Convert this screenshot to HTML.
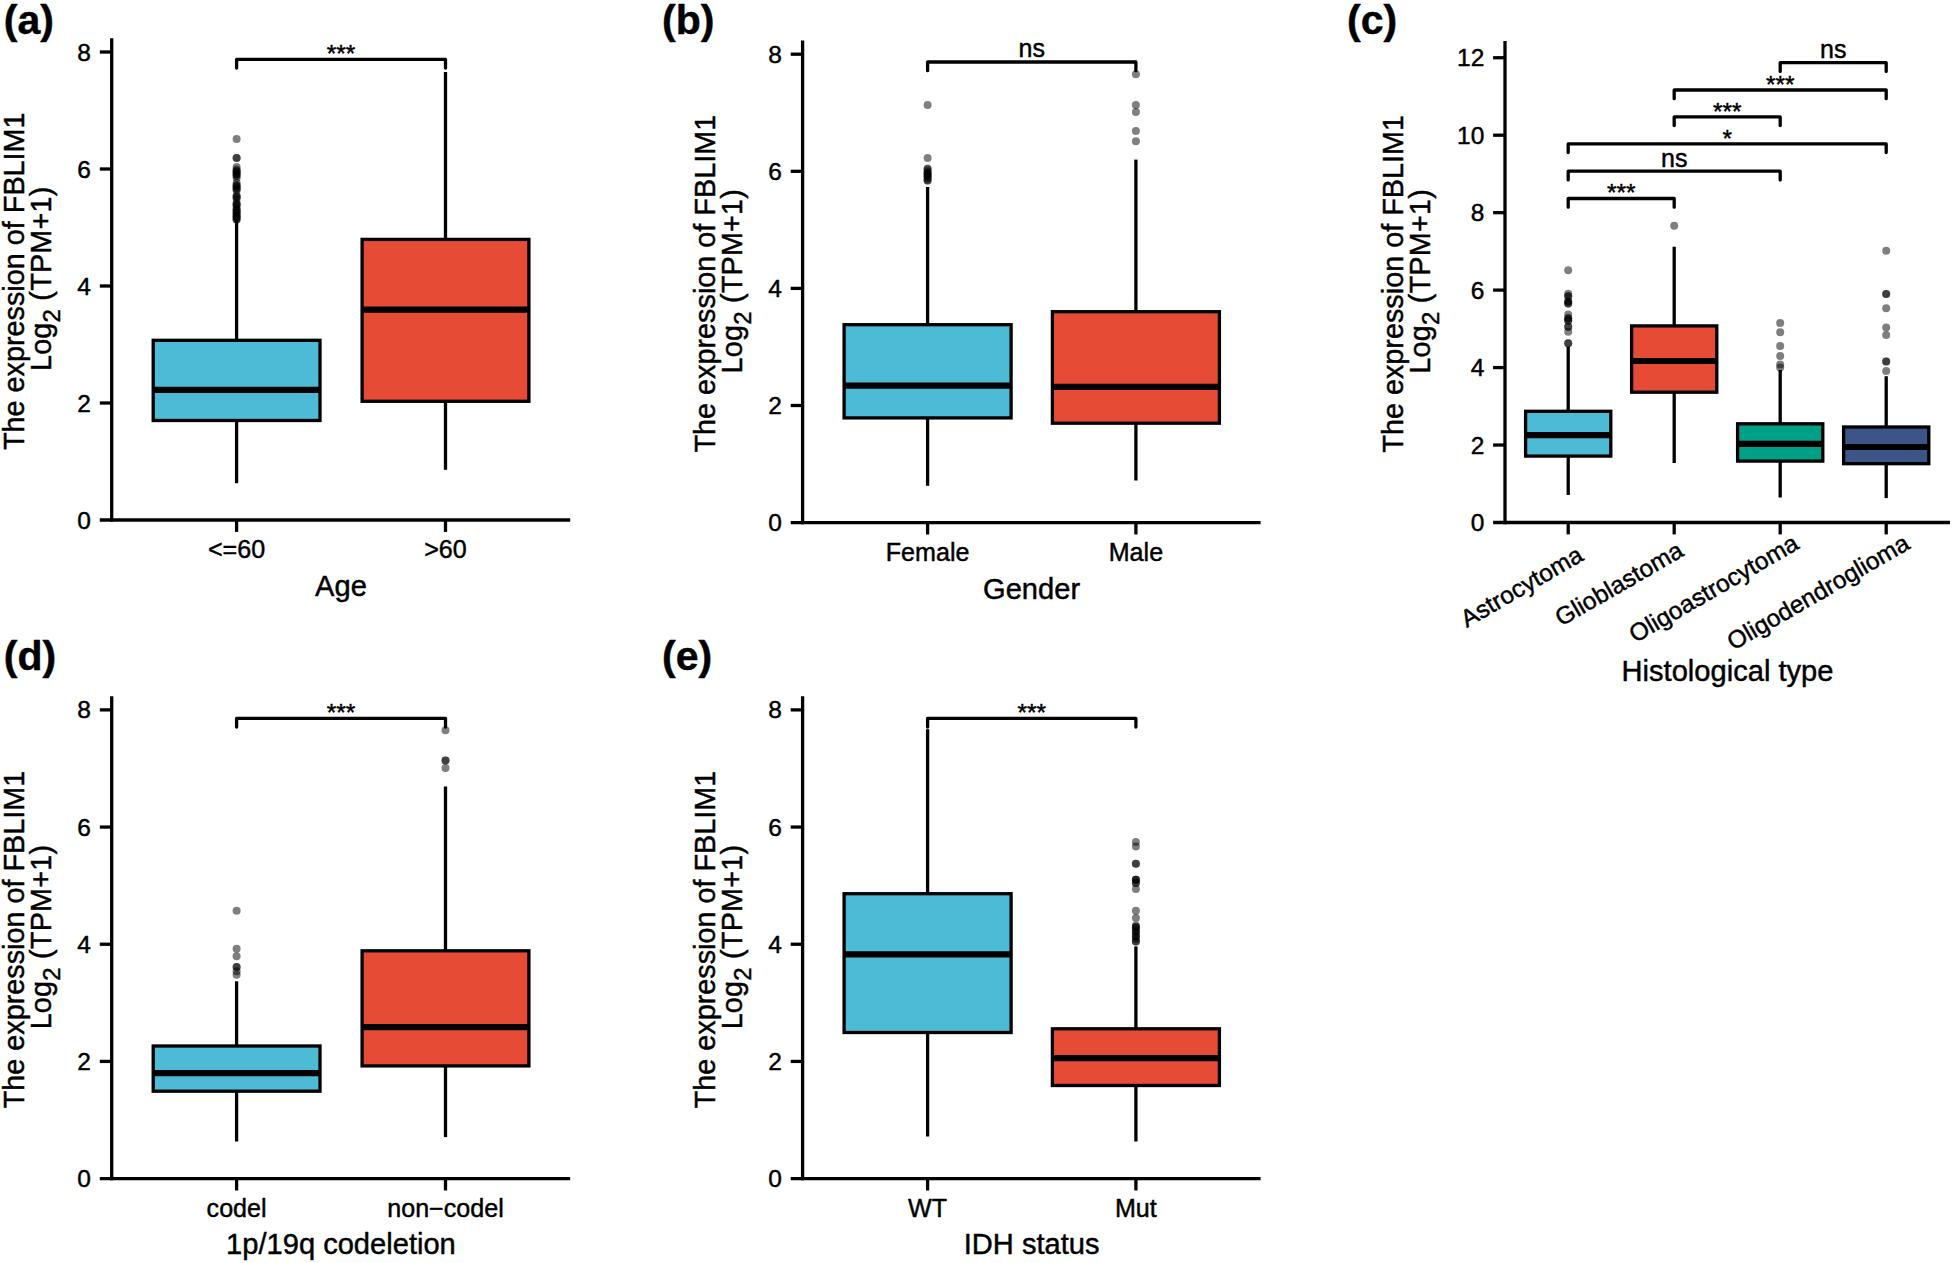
<!DOCTYPE html>
<html lang="en">
<head>
<meta charset="utf-8">
<title>FBLIM1 expression box plots</title>
<style>
html,body{margin:0;padding:0;background:#fff;}
body{width:1952px;height:1263px;overflow:hidden;}
svg{display:block;font-family:"Liberation Sans",Arial,Helvetica,sans-serif;fill:#000;}
text{stroke:#000;stroke-width:0.45px;stroke-linejoin:round;}
</style>
</head>
<body>
<svg width="1952" height="1263" viewBox="0 0 1952 1263">
<rect x="0" y="0" width="1952" height="1263" fill="#fff"/>
<g>
<line x1="236.6" y1="483.2" x2="236.6" y2="420.5" stroke="#000" stroke-width="3.3" stroke-linecap="butt"/>
<line x1="236.6" y1="340.3" x2="236.6" y2="219.5" stroke="#000" stroke-width="3.3" stroke-linecap="butt"/>
<rect x="153.2" y="340.3" width="166.8" height="80.2" fill="#4DBBD5" stroke="#000" stroke-width="3.3" stroke-linejoin="miter"/>
<line x1="153.2" y1="389.9" x2="320" y2="389.9" stroke="#000" stroke-width="6.2" stroke-linecap="butt"/>
<circle cx="236.6" cy="138.9" r="4.0" fill="rgba(0,0,0,0.5)"/>
<circle cx="236.6" cy="158" r="4.0" fill="rgba(0,0,0,0.5)"/>
<circle cx="236.6" cy="158" r="4.0" fill="rgba(0,0,0,0.5)"/>
<circle cx="236.6" cy="167.1" r="4.0" fill="rgba(0,0,0,0.5)"/>
<circle cx="236.6" cy="169.5" r="4.0" fill="rgba(0,0,0,0.5)"/>
<circle cx="236.6" cy="171.3" r="4.0" fill="rgba(0,0,0,0.5)"/>
<circle cx="236.6" cy="171.3" r="4.0" fill="rgba(0,0,0,0.5)"/>
<circle cx="236.6" cy="173" r="4.0" fill="rgba(0,0,0,0.5)"/>
<circle cx="236.6" cy="174.6" r="4.0" fill="rgba(0,0,0,0.5)"/>
<circle cx="236.6" cy="174.6" r="4.0" fill="rgba(0,0,0,0.5)"/>
<circle cx="236.6" cy="176" r="4.0" fill="rgba(0,0,0,0.5)"/>
<circle cx="236.6" cy="177.9" r="4.0" fill="rgba(0,0,0,0.5)"/>
<circle cx="236.6" cy="183" r="4.0" fill="rgba(0,0,0,0.5)"/>
<circle cx="236.6" cy="185.4" r="4.0" fill="rgba(0,0,0,0.5)"/>
<circle cx="236.6" cy="185.4" r="4.0" fill="rgba(0,0,0,0.5)"/>
<circle cx="236.6" cy="187" r="4.0" fill="rgba(0,0,0,0.5)"/>
<circle cx="236.6" cy="188.7" r="4.0" fill="rgba(0,0,0,0.5)"/>
<circle cx="236.6" cy="188.7" r="4.0" fill="rgba(0,0,0,0.5)"/>
<circle cx="236.6" cy="190.5" r="4.0" fill="rgba(0,0,0,0.5)"/>
<circle cx="236.6" cy="195.5" r="4.0" fill="rgba(0,0,0,0.5)"/>
<circle cx="236.6" cy="197.1" r="4.0" fill="rgba(0,0,0,0.5)"/>
<circle cx="236.6" cy="197.1" r="4.0" fill="rgba(0,0,0,0.5)"/>
<circle cx="236.6" cy="199" r="4.0" fill="rgba(0,0,0,0.5)"/>
<circle cx="236.6" cy="203" r="4.0" fill="rgba(0,0,0,0.5)"/>
<circle cx="236.6" cy="204.5" r="4.0" fill="rgba(0,0,0,0.5)"/>
<circle cx="236.6" cy="204.5" r="4.0" fill="rgba(0,0,0,0.5)"/>
<circle cx="236.6" cy="206.5" r="4.0" fill="rgba(0,0,0,0.5)"/>
<circle cx="236.6" cy="209.5" r="4.0" fill="rgba(0,0,0,0.5)"/>
<circle cx="236.6" cy="209.5" r="4.0" fill="rgba(0,0,0,0.5)"/>
<circle cx="236.6" cy="211" r="4.0" fill="rgba(0,0,0,0.5)"/>
<circle cx="236.6" cy="212.8" r="4.0" fill="rgba(0,0,0,0.5)"/>
<circle cx="236.6" cy="212.8" r="4.0" fill="rgba(0,0,0,0.5)"/>
<circle cx="236.6" cy="214.5" r="4.0" fill="rgba(0,0,0,0.5)"/>
<circle cx="236.6" cy="216.2" r="4.0" fill="rgba(0,0,0,0.5)"/>
<circle cx="236.6" cy="216.2" r="4.0" fill="rgba(0,0,0,0.5)"/>
<circle cx="236.6" cy="218" r="4.0" fill="rgba(0,0,0,0.5)"/>
<circle cx="236.6" cy="219.5" r="4.0" fill="rgba(0,0,0,0.5)"/>
<circle cx="236.6" cy="219.5" r="4.0" fill="rgba(0,0,0,0.5)"/>
<line x1="445.5" y1="469.8" x2="445.5" y2="401.3" stroke="#000" stroke-width="3.3" stroke-linecap="butt"/>
<line x1="445.5" y1="239.4" x2="445.5" y2="72" stroke="#000" stroke-width="3.3" stroke-linecap="butt"/>
<rect x="362.1" y="239.4" width="166.8" height="161.9" fill="#E64B35" stroke="#000" stroke-width="3.3" stroke-linejoin="miter"/>
<line x1="362.1" y1="309.7" x2="528.9" y2="309.7" stroke="#000" stroke-width="6.2" stroke-linecap="butt"/>
<line x1="111.7" y1="38.3" x2="111.7" y2="521.65" stroke="#000" stroke-width="3.3" stroke-linecap="butt"/>
<line x1="99.8" y1="520" x2="570.2" y2="520" stroke="#000" stroke-width="3.3" stroke-linecap="butt"/>
<text x="91" y="528.5" font-size="24.5" text-anchor="end">0</text>
<line x1="99.8" y1="403" x2="111.7" y2="403" stroke="#000" stroke-width="3.3" stroke-linecap="butt"/>
<text x="91" y="411.5" font-size="24.5" text-anchor="end">2</text>
<line x1="99.8" y1="286" x2="111.7" y2="286" stroke="#000" stroke-width="3.3" stroke-linecap="butt"/>
<text x="91" y="294.5" font-size="24.5" text-anchor="end">4</text>
<line x1="99.8" y1="169" x2="111.7" y2="169" stroke="#000" stroke-width="3.3" stroke-linecap="butt"/>
<text x="91" y="177.5" font-size="24.5" text-anchor="end">6</text>
<line x1="99.8" y1="52" x2="111.7" y2="52" stroke="#000" stroke-width="3.3" stroke-linecap="butt"/>
<text x="91" y="60.5" font-size="24.5" text-anchor="end">8</text>
<line x1="236.6" y1="520" x2="236.6" y2="531.9" stroke="#000" stroke-width="3.3" stroke-linecap="butt"/>
<text x="236.6" y="558.4" font-size="25.1" text-anchor="middle">&lt;=60</text>
<line x1="445.5" y1="520" x2="445.5" y2="531.9" stroke="#000" stroke-width="3.3" stroke-linecap="butt"/>
<text x="445.5" y="558.4" font-size="25.1" text-anchor="middle">&gt;60</text>
<path d="M236.6 68.1V59.4H445.5V68.1" fill="none" stroke="#000" stroke-width="3.3" stroke-linejoin="round" stroke-linecap="round"/>
<text x="341.05" y="62.1" font-size="24.5" text-anchor="middle">***</text>
<text x="340.95" y="596.4" font-size="29.1" text-anchor="middle">Age</text>
<text transform="translate(23.8,281.25) rotate(-90)" font-size="28.8" text-anchor="middle">The expression of FBLIM1</text>
<text transform="translate(51.3,278.75) rotate(-90)" font-size="28.8" text-anchor="middle" letter-spacing="0.2">Log<tspan font-size="24" dy="9">2</tspan><tspan dy="-9"> (TPM+1)</tspan></text>
<text x="3.8" y="34.3" font-size="41" text-anchor="start" font-weight="bold" stroke="none">(a)</text>
</g>
<g>
<line x1="927.6" y1="485.8" x2="927.6" y2="417.9" stroke="#000" stroke-width="3.3" stroke-linecap="butt"/>
<line x1="927.6" y1="324.7" x2="927.6" y2="187" stroke="#000" stroke-width="3.3" stroke-linecap="butt"/>
<rect x="844.1" y="324.7" width="167" height="93.2" fill="#4DBBD5" stroke="#000" stroke-width="3.3" stroke-linejoin="miter"/>
<line x1="844.1" y1="385.6" x2="1011.1" y2="385.6" stroke="#000" stroke-width="6.2" stroke-linecap="butt"/>
<circle cx="927.6" cy="104.9" r="4.0" fill="rgba(0,0,0,0.5)"/>
<circle cx="927.6" cy="157.9" r="4.0" fill="rgba(0,0,0,0.5)"/>
<circle cx="927.6" cy="168.5" r="4.0" fill="rgba(0,0,0,0.5)"/>
<circle cx="927.6" cy="169.6" r="4.0" fill="rgba(0,0,0,0.5)"/>
<circle cx="927.6" cy="171.5" r="4.0" fill="rgba(0,0,0,0.5)"/>
<circle cx="927.6" cy="173.2" r="4.0" fill="rgba(0,0,0,0.5)"/>
<circle cx="927.6" cy="173.2" r="4.0" fill="rgba(0,0,0,0.5)"/>
<circle cx="927.6" cy="175" r="4.0" fill="rgba(0,0,0,0.5)"/>
<circle cx="927.6" cy="176.5" r="4.0" fill="rgba(0,0,0,0.5)"/>
<circle cx="927.6" cy="176.5" r="4.0" fill="rgba(0,0,0,0.5)"/>
<circle cx="927.6" cy="178.5" r="4.0" fill="rgba(0,0,0,0.5)"/>
<circle cx="927.6" cy="180.5" r="4.0" fill="rgba(0,0,0,0.5)"/>
<circle cx="927.6" cy="180.5" r="4.0" fill="rgba(0,0,0,0.5)"/>
<line x1="1135.9" y1="480.5" x2="1135.9" y2="423.2" stroke="#000" stroke-width="3.3" stroke-linecap="butt"/>
<line x1="1135.9" y1="311.7" x2="1135.9" y2="159.6" stroke="#000" stroke-width="3.3" stroke-linecap="butt"/>
<rect x="1052.4" y="311.7" width="167" height="111.5" fill="#E64B35" stroke="#000" stroke-width="3.3" stroke-linejoin="miter"/>
<line x1="1052.4" y1="386.9" x2="1219.4" y2="386.9" stroke="#000" stroke-width="6.2" stroke-linecap="butt"/>
<circle cx="1135.9" cy="74.2" r="4.0" fill="rgba(0,0,0,0.5)"/>
<circle cx="1135.9" cy="104.9" r="4.0" fill="rgba(0,0,0,0.5)"/>
<circle cx="1135.9" cy="111.9" r="4.0" fill="rgba(0,0,0,0.5)"/>
<circle cx="1135.9" cy="131" r="4.0" fill="rgba(0,0,0,0.5)"/>
<circle cx="1135.9" cy="141.2" r="4.0" fill="rgba(0,0,0,0.5)"/>
<line x1="802.6" y1="40.6" x2="802.6" y2="524.25" stroke="#000" stroke-width="3.3" stroke-linecap="butt"/>
<line x1="790.7" y1="522.6" x2="1260.6" y2="522.6" stroke="#000" stroke-width="3.3" stroke-linecap="butt"/>
<text x="781.9" y="531.1" font-size="24.5" text-anchor="end">0</text>
<line x1="790.7" y1="405.5" x2="802.6" y2="405.5" stroke="#000" stroke-width="3.3" stroke-linecap="butt"/>
<text x="781.9" y="414" font-size="24.5" text-anchor="end">2</text>
<line x1="790.7" y1="288.4" x2="802.6" y2="288.4" stroke="#000" stroke-width="3.3" stroke-linecap="butt"/>
<text x="781.9" y="296.9" font-size="24.5" text-anchor="end">4</text>
<line x1="790.7" y1="171.3" x2="802.6" y2="171.3" stroke="#000" stroke-width="3.3" stroke-linecap="butt"/>
<text x="781.9" y="179.8" font-size="24.5" text-anchor="end">6</text>
<line x1="790.7" y1="54.2" x2="802.6" y2="54.2" stroke="#000" stroke-width="3.3" stroke-linecap="butt"/>
<text x="781.9" y="62.7" font-size="24.5" text-anchor="end">8</text>
<line x1="927.6" y1="522.6" x2="927.6" y2="534.5" stroke="#000" stroke-width="3.3" stroke-linecap="butt"/>
<text x="927.6" y="560.5" font-size="25.1" text-anchor="middle">Female</text>
<line x1="1135.9" y1="522.6" x2="1135.9" y2="534.5" stroke="#000" stroke-width="3.3" stroke-linecap="butt"/>
<text x="1135.9" y="560.5" font-size="25.1" text-anchor="middle">Male</text>
<path d="M927.6 70.7V62H1135.9V70.7" fill="none" stroke="#000" stroke-width="3.3" stroke-linejoin="round" stroke-linecap="round"/>
<text x="1031.75" y="57.3" font-size="25" text-anchor="middle">ns</text>
<text x="1031.6" y="598.6" font-size="29.1" text-anchor="middle">Gender</text>
<text transform="translate(714.8,283.7) rotate(-90)" font-size="28.8" text-anchor="middle">The expression of FBLIM1</text>
<text transform="translate(741.9,281.2) rotate(-90)" font-size="28.8" text-anchor="middle" letter-spacing="0.2">Log<tspan font-size="24" dy="9">2</tspan><tspan dy="-9"> (TPM+1)</tspan></text>
<text x="662" y="34.3" font-size="41" text-anchor="start" font-weight="bold" stroke="none">(b)</text>
</g>
<g>
<line x1="1568.2" y1="495" x2="1568.2" y2="456.1" stroke="#000" stroke-width="3.3" stroke-linecap="butt"/>
<line x1="1568.2" y1="411.3" x2="1568.2" y2="346.5" stroke="#000" stroke-width="3.3" stroke-linecap="butt"/>
<rect x="1525.6" y="411.3" width="85.2" height="44.8" fill="#4DBBD5" stroke="#000" stroke-width="3.3" stroke-linejoin="miter"/>
<line x1="1525.6" y1="435.1" x2="1610.8" y2="435.1" stroke="#000" stroke-width="6.2" stroke-linecap="butt"/>
<circle cx="1568.2" cy="270.3" r="4.0" fill="rgba(0,0,0,0.5)"/>
<circle cx="1568.2" cy="293.8" r="4.0" fill="rgba(0,0,0,0.5)"/>
<circle cx="1568.2" cy="296.3" r="4.0" fill="rgba(0,0,0,0.5)"/>
<circle cx="1568.2" cy="296.3" r="4.0" fill="rgba(0,0,0,0.5)"/>
<circle cx="1568.2" cy="301.6" r="4.0" fill="rgba(0,0,0,0.5)"/>
<circle cx="1568.2" cy="301.6" r="4.0" fill="rgba(0,0,0,0.5)"/>
<circle cx="1568.2" cy="303.5" r="4.0" fill="rgba(0,0,0,0.5)"/>
<circle cx="1568.2" cy="303.5" r="4.0" fill="rgba(0,0,0,0.5)"/>
<circle cx="1568.2" cy="314.5" r="4.0" fill="rgba(0,0,0,0.5)"/>
<circle cx="1568.2" cy="318.2" r="4.0" fill="rgba(0,0,0,0.5)"/>
<circle cx="1568.2" cy="318.2" r="4.0" fill="rgba(0,0,0,0.5)"/>
<circle cx="1568.2" cy="320.4" r="4.0" fill="rgba(0,0,0,0.5)"/>
<circle cx="1568.2" cy="320.4" r="4.0" fill="rgba(0,0,0,0.5)"/>
<circle cx="1568.2" cy="326.7" r="4.0" fill="rgba(0,0,0,0.5)"/>
<circle cx="1568.2" cy="326.7" r="4.0" fill="rgba(0,0,0,0.5)"/>
<circle cx="1568.2" cy="331.7" r="4.0" fill="rgba(0,0,0,0.5)"/>
<circle cx="1568.2" cy="343.3" r="4.0" fill="rgba(0,0,0,0.5)"/>
<circle cx="1568.2" cy="343.3" r="4.0" fill="rgba(0,0,0,0.5)"/>
<line x1="1674.2" y1="463" x2="1674.2" y2="392.2" stroke="#000" stroke-width="3.3" stroke-linecap="butt"/>
<line x1="1674.2" y1="325.9" x2="1674.2" y2="246.7" stroke="#000" stroke-width="3.3" stroke-linecap="butt"/>
<rect x="1631.6" y="325.9" width="85.2" height="66.3" fill="#E64B35" stroke="#000" stroke-width="3.3" stroke-linejoin="miter"/>
<line x1="1631.6" y1="361" x2="1716.8" y2="361" stroke="#000" stroke-width="6.2" stroke-linecap="butt"/>
<circle cx="1674.2" cy="225.7" r="4.0" fill="rgba(0,0,0,0.5)"/>
<line x1="1780.2" y1="497.5" x2="1780.2" y2="461.1" stroke="#000" stroke-width="3.3" stroke-linecap="butt"/>
<line x1="1780.2" y1="423.8" x2="1780.2" y2="370" stroke="#000" stroke-width="3.3" stroke-linecap="butt"/>
<rect x="1737.6" y="423.8" width="85.2" height="37.3" fill="#00A087" stroke="#000" stroke-width="3.3" stroke-linejoin="miter"/>
<line x1="1737.6" y1="443.9" x2="1822.8" y2="443.9" stroke="#000" stroke-width="6.2" stroke-linecap="butt"/>
<circle cx="1780.2" cy="322.9" r="4.0" fill="rgba(0,0,0,0.5)"/>
<circle cx="1780.2" cy="332.3" r="4.0" fill="rgba(0,0,0,0.5)"/>
<circle cx="1780.2" cy="346.1" r="4.0" fill="rgba(0,0,0,0.5)"/>
<circle cx="1780.2" cy="355.9" r="4.0" fill="rgba(0,0,0,0.5)"/>
<circle cx="1780.2" cy="364.6" r="4.0" fill="rgba(0,0,0,0.5)"/>
<circle cx="1780.2" cy="367.5" r="4.0" fill="rgba(0,0,0,0.5)"/>
<line x1="1886.2" y1="498.1" x2="1886.2" y2="463.7" stroke="#000" stroke-width="3.3" stroke-linecap="butt"/>
<line x1="1886.2" y1="427" x2="1886.2" y2="376.2" stroke="#000" stroke-width="3.3" stroke-linecap="butt"/>
<rect x="1843.6" y="427" width="85.2" height="36.7" fill="#3C5488" stroke="#000" stroke-width="3.3" stroke-linejoin="miter"/>
<line x1="1843.6" y1="447" x2="1928.8" y2="447" stroke="#000" stroke-width="6.2" stroke-linecap="butt"/>
<circle cx="1886.2" cy="250.8" r="4.0" fill="rgba(0,0,0,0.5)"/>
<circle cx="1886.2" cy="294.1" r="4.0" fill="rgba(0,0,0,0.5)"/>
<circle cx="1886.2" cy="294.1" r="4.0" fill="rgba(0,0,0,0.5)"/>
<circle cx="1886.2" cy="308.2" r="4.0" fill="rgba(0,0,0,0.5)"/>
<circle cx="1886.2" cy="327.6" r="4.0" fill="rgba(0,0,0,0.5)"/>
<circle cx="1886.2" cy="334.9" r="4.0" fill="rgba(0,0,0,0.5)"/>
<circle cx="1886.2" cy="361.5" r="4.0" fill="rgba(0,0,0,0.5)"/>
<circle cx="1886.2" cy="361.5" r="4.0" fill="rgba(0,0,0,0.5)"/>
<circle cx="1886.2" cy="370.9" r="4.0" fill="rgba(0,0,0,0.5)"/>
<line x1="1505" y1="41" x2="1505" y2="524.15" stroke="#000" stroke-width="3.3" stroke-linecap="butt"/>
<line x1="1493.1" y1="522.5" x2="1950" y2="522.5" stroke="#000" stroke-width="3.3" stroke-linecap="butt"/>
<text x="1484.3" y="531" font-size="24.5" text-anchor="end">0</text>
<line x1="1493.1" y1="445.04" x2="1505" y2="445.04" stroke="#000" stroke-width="3.3" stroke-linecap="butt"/>
<text x="1484.3" y="453.54" font-size="24.5" text-anchor="end">2</text>
<line x1="1493.1" y1="367.58" x2="1505" y2="367.58" stroke="#000" stroke-width="3.3" stroke-linecap="butt"/>
<text x="1484.3" y="376.08" font-size="24.5" text-anchor="end">4</text>
<line x1="1493.1" y1="290.12" x2="1505" y2="290.12" stroke="#000" stroke-width="3.3" stroke-linecap="butt"/>
<text x="1484.3" y="298.62" font-size="24.5" text-anchor="end">6</text>
<line x1="1493.1" y1="212.66" x2="1505" y2="212.66" stroke="#000" stroke-width="3.3" stroke-linecap="butt"/>
<text x="1484.3" y="221.16" font-size="24.5" text-anchor="end">8</text>
<line x1="1493.1" y1="135.2" x2="1505" y2="135.2" stroke="#000" stroke-width="3.3" stroke-linecap="butt"/>
<text x="1484.3" y="143.7" font-size="24.5" text-anchor="end">10</text>
<line x1="1493.1" y1="57.74" x2="1505" y2="57.74" stroke="#000" stroke-width="3.3" stroke-linecap="butt"/>
<text x="1484.3" y="66.24" font-size="24.5" text-anchor="end">12</text>
<line x1="1568.2" y1="522.5" x2="1568.2" y2="534.4" stroke="#000" stroke-width="3.3" stroke-linecap="butt"/>
<text transform="translate(1584.7,559.8) rotate(-30)" font-size="24.5" text-anchor="end">Astrocytoma</text>
<line x1="1674.2" y1="522.5" x2="1674.2" y2="534.4" stroke="#000" stroke-width="3.3" stroke-linecap="butt"/>
<text transform="translate(1685,555.3) rotate(-30)" font-size="24.5" text-anchor="end">Glioblastoma</text>
<line x1="1780.2" y1="522.5" x2="1780.2" y2="534.4" stroke="#000" stroke-width="3.3" stroke-linecap="butt"/>
<text transform="translate(1800.4,547.9) rotate(-30)" font-size="24.5" text-anchor="end">Oligoastrocytoma</text>
<line x1="1886.2" y1="522.5" x2="1886.2" y2="534.4" stroke="#000" stroke-width="3.3" stroke-linecap="butt"/>
<text transform="translate(1911.3,547.9) rotate(-30)" font-size="24.5" text-anchor="end">Oligodendroglioma</text>
<path d="M1568.2 207.2V198.5H1674.2V207.2" fill="none" stroke="#000" stroke-width="3.3" stroke-linejoin="round" stroke-linecap="round"/>
<text x="1621.2" y="201.2" font-size="24.5" text-anchor="middle">***</text>
<path d="M1568.2 179.9V171.2H1780.2V179.9" fill="none" stroke="#000" stroke-width="3.3" stroke-linejoin="round" stroke-linecap="round"/>
<text x="1674.2" y="166.5" font-size="25" text-anchor="middle">ns</text>
<path d="M1568.2 152.6V143.9H1886.2V152.6" fill="none" stroke="#000" stroke-width="3.3" stroke-linejoin="round" stroke-linecap="round"/>
<text x="1727.2" y="146.6" font-size="24.5" text-anchor="middle">*</text>
<path d="M1674.2 125.6V116.9H1780.2V125.6" fill="none" stroke="#000" stroke-width="3.3" stroke-linejoin="round" stroke-linecap="round"/>
<text x="1727.2" y="119.6" font-size="24.5" text-anchor="middle">***</text>
<path d="M1674.2 98.7V90H1886.2V98.7" fill="none" stroke="#000" stroke-width="3.3" stroke-linejoin="round" stroke-linecap="round"/>
<text x="1780.2" y="92.7" font-size="24.5" text-anchor="middle">***</text>
<path d="M1780.2 71.4V62.7H1886.2V71.4" fill="none" stroke="#000" stroke-width="3.3" stroke-linejoin="round" stroke-linecap="round"/>
<text x="1833.2" y="58" font-size="25" text-anchor="middle">ns</text>
<text x="1727.5" y="680.9" font-size="29.1" text-anchor="middle">Histological type</text>
<text transform="translate(1403,283.85) rotate(-90)" font-size="28.8" text-anchor="middle">The expression of FBLIM1</text>
<text transform="translate(1430.3,281.35) rotate(-90)" font-size="28.8" text-anchor="middle" letter-spacing="0.2">Log<tspan font-size="24" dy="9">2</tspan><tspan dy="-9"> (TPM+1)</tspan></text>
<text x="1347" y="34.3" font-size="41" text-anchor="start" font-weight="bold" stroke="none">(c)</text>
</g>
<g>
<line x1="236.6" y1="1141.5" x2="236.6" y2="1091.2" stroke="#000" stroke-width="3.3" stroke-linecap="butt"/>
<line x1="236.6" y1="1046" x2="236.6" y2="981.3" stroke="#000" stroke-width="3.3" stroke-linecap="butt"/>
<rect x="153.2" y="1046" width="166.8" height="45.2" fill="#4DBBD5" stroke="#000" stroke-width="3.3" stroke-linejoin="miter"/>
<line x1="153.2" y1="1073.2" x2="320" y2="1073.2" stroke="#000" stroke-width="6.2" stroke-linecap="butt"/>
<circle cx="236.6" cy="910.7" r="4.0" fill="rgba(0,0,0,0.5)"/>
<circle cx="236.6" cy="948.7" r="4.0" fill="rgba(0,0,0,0.5)"/>
<circle cx="236.6" cy="956.3" r="4.0" fill="rgba(0,0,0,0.5)"/>
<circle cx="236.6" cy="967" r="4.0" fill="rgba(0,0,0,0.5)"/>
<circle cx="236.6" cy="967" r="4.0" fill="rgba(0,0,0,0.5)"/>
<circle cx="236.6" cy="971.3" r="4.0" fill="rgba(0,0,0,0.5)"/>
<circle cx="236.6" cy="974.7" r="4.0" fill="rgba(0,0,0,0.5)"/>
<line x1="445.5" y1="1137.1" x2="445.5" y2="1065.9" stroke="#000" stroke-width="3.3" stroke-linecap="butt"/>
<line x1="445.5" y1="950.8" x2="445.5" y2="786.5" stroke="#000" stroke-width="3.3" stroke-linecap="butt"/>
<rect x="362.1" y="950.8" width="166.8" height="115.1" fill="#E64B35" stroke="#000" stroke-width="3.3" stroke-linejoin="miter"/>
<line x1="362.1" y1="1027.1" x2="528.9" y2="1027.1" stroke="#000" stroke-width="6.2" stroke-linecap="butt"/>
<circle cx="445.5" cy="730.2" r="4.0" fill="rgba(0,0,0,0.5)"/>
<circle cx="445.5" cy="760.5" r="4.0" fill="rgba(0,0,0,0.5)"/>
<circle cx="445.5" cy="760.5" r="4.0" fill="rgba(0,0,0,0.5)"/>
<circle cx="445.5" cy="767.9" r="4.0" fill="rgba(0,0,0,0.5)"/>
<line x1="111.7" y1="696.3" x2="111.7" y2="1180.25" stroke="#000" stroke-width="3.3" stroke-linecap="butt"/>
<line x1="99.8" y1="1178.6" x2="570.2" y2="1178.6" stroke="#000" stroke-width="3.3" stroke-linecap="butt"/>
<text x="91" y="1187.1" font-size="24.5" text-anchor="end">0</text>
<line x1="99.8" y1="1061.42" x2="111.7" y2="1061.42" stroke="#000" stroke-width="3.3" stroke-linecap="butt"/>
<text x="91" y="1069.92" font-size="24.5" text-anchor="end">2</text>
<line x1="99.8" y1="944.24" x2="111.7" y2="944.24" stroke="#000" stroke-width="3.3" stroke-linecap="butt"/>
<text x="91" y="952.74" font-size="24.5" text-anchor="end">4</text>
<line x1="99.8" y1="827.06" x2="111.7" y2="827.06" stroke="#000" stroke-width="3.3" stroke-linecap="butt"/>
<text x="91" y="835.56" font-size="24.5" text-anchor="end">6</text>
<line x1="99.8" y1="709.88" x2="111.7" y2="709.88" stroke="#000" stroke-width="3.3" stroke-linecap="butt"/>
<text x="91" y="718.38" font-size="24.5" text-anchor="end">8</text>
<line x1="236.6" y1="1178.6" x2="236.6" y2="1190.5" stroke="#000" stroke-width="3.3" stroke-linecap="butt"/>
<text x="236.6" y="1216.5" font-size="25.1" text-anchor="middle">codel</text>
<line x1="445.5" y1="1178.6" x2="445.5" y2="1190.5" stroke="#000" stroke-width="3.3" stroke-linecap="butt"/>
<text x="445.5" y="1216.5" font-size="25.1" text-anchor="middle">non−codel</text>
<path d="M236.6 727V718.3H445.5V727" fill="none" stroke="#000" stroke-width="3.3" stroke-linejoin="round" stroke-linecap="round"/>
<text x="341.05" y="721" font-size="24.5" text-anchor="middle">***</text>
<text x="340.95" y="1254" font-size="29.1" text-anchor="middle">1p/19q codeletion</text>
<text transform="translate(23.8,939.55) rotate(-90)" font-size="28.8" text-anchor="middle">The expression of FBLIM1</text>
<text transform="translate(51.3,937.05) rotate(-90)" font-size="28.8" text-anchor="middle" letter-spacing="0.2">Log<tspan font-size="24" dy="9">2</tspan><tspan dy="-9"> (TPM+1)</tspan></text>
<text x="3.8" y="669.8" font-size="41" text-anchor="start" font-weight="bold" stroke="none">(d)</text>
</g>
<g>
<line x1="927.6" y1="1136.5" x2="927.6" y2="1032.5" stroke="#000" stroke-width="3.3" stroke-linecap="butt"/>
<line x1="927.6" y1="893.7" x2="927.6" y2="729.2" stroke="#000" stroke-width="3.3" stroke-linecap="butt"/>
<rect x="844.1" y="893.7" width="167" height="138.8" fill="#4DBBD5" stroke="#000" stroke-width="3.3" stroke-linejoin="miter"/>
<line x1="844.1" y1="954.4" x2="1011.1" y2="954.4" stroke="#000" stroke-width="6.2" stroke-linecap="butt"/>
<line x1="1135.9" y1="1141.5" x2="1135.9" y2="1085.5" stroke="#000" stroke-width="3.3" stroke-linecap="butt"/>
<line x1="1135.9" y1="1028.8" x2="1135.9" y2="946.4" stroke="#000" stroke-width="3.3" stroke-linecap="butt"/>
<rect x="1052.4" y="1028.8" width="167" height="56.7" fill="#E64B35" stroke="#000" stroke-width="3.3" stroke-linejoin="miter"/>
<line x1="1052.4" y1="1058.2" x2="1219.4" y2="1058.2" stroke="#000" stroke-width="6.2" stroke-linecap="butt"/>
<circle cx="1135.9" cy="842.1" r="4.0" fill="rgba(0,0,0,0.5)"/>
<circle cx="1135.9" cy="846.5" r="4.0" fill="rgba(0,0,0,0.5)"/>
<circle cx="1135.9" cy="863.8" r="4.0" fill="rgba(0,0,0,0.5)"/>
<circle cx="1135.9" cy="863.8" r="4.0" fill="rgba(0,0,0,0.5)"/>
<circle cx="1135.9" cy="879.8" r="4.0" fill="rgba(0,0,0,0.5)"/>
<circle cx="1135.9" cy="879.8" r="4.0" fill="rgba(0,0,0,0.5)"/>
<circle cx="1135.9" cy="879.8" r="4.0" fill="rgba(0,0,0,0.5)"/>
<circle cx="1135.9" cy="883.1" r="4.0" fill="rgba(0,0,0,0.5)"/>
<circle cx="1135.9" cy="883.1" r="4.0" fill="rgba(0,0,0,0.5)"/>
<circle cx="1135.9" cy="889.1" r="4.0" fill="rgba(0,0,0,0.5)"/>
<circle cx="1135.9" cy="910.7" r="4.0" fill="rgba(0,0,0,0.5)"/>
<circle cx="1135.9" cy="918.1" r="4.0" fill="rgba(0,0,0,0.5)"/>
<circle cx="1135.9" cy="925.5" r="4.0" fill="rgba(0,0,0,0.5)"/>
<circle cx="1135.9" cy="927" r="4.0" fill="rgba(0,0,0,0.5)"/>
<circle cx="1135.9" cy="927" r="4.0" fill="rgba(0,0,0,0.5)"/>
<circle cx="1135.9" cy="929" r="4.0" fill="rgba(0,0,0,0.5)"/>
<circle cx="1135.9" cy="931.4" r="4.0" fill="rgba(0,0,0,0.5)"/>
<circle cx="1135.9" cy="931.4" r="4.0" fill="rgba(0,0,0,0.5)"/>
<circle cx="1135.9" cy="934" r="4.0" fill="rgba(0,0,0,0.5)"/>
<circle cx="1135.9" cy="936.4" r="4.0" fill="rgba(0,0,0,0.5)"/>
<circle cx="1135.9" cy="936.4" r="4.0" fill="rgba(0,0,0,0.5)"/>
<circle cx="1135.9" cy="939" r="4.0" fill="rgba(0,0,0,0.5)"/>
<circle cx="1135.9" cy="941.4" r="4.0" fill="rgba(0,0,0,0.5)"/>
<circle cx="1135.9" cy="941.4" r="4.0" fill="rgba(0,0,0,0.5)"/>
<line x1="802.6" y1="696.3" x2="802.6" y2="1180.25" stroke="#000" stroke-width="3.3" stroke-linecap="butt"/>
<line x1="790.7" y1="1178.6" x2="1260.6" y2="1178.6" stroke="#000" stroke-width="3.3" stroke-linecap="butt"/>
<text x="781.9" y="1187.1" font-size="24.5" text-anchor="end">0</text>
<line x1="790.7" y1="1061.42" x2="802.6" y2="1061.42" stroke="#000" stroke-width="3.3" stroke-linecap="butt"/>
<text x="781.9" y="1069.92" font-size="24.5" text-anchor="end">2</text>
<line x1="790.7" y1="944.24" x2="802.6" y2="944.24" stroke="#000" stroke-width="3.3" stroke-linecap="butt"/>
<text x="781.9" y="952.74" font-size="24.5" text-anchor="end">4</text>
<line x1="790.7" y1="827.06" x2="802.6" y2="827.06" stroke="#000" stroke-width="3.3" stroke-linecap="butt"/>
<text x="781.9" y="835.56" font-size="24.5" text-anchor="end">6</text>
<line x1="790.7" y1="709.88" x2="802.6" y2="709.88" stroke="#000" stroke-width="3.3" stroke-linecap="butt"/>
<text x="781.9" y="718.38" font-size="24.5" text-anchor="end">8</text>
<line x1="927.6" y1="1178.6" x2="927.6" y2="1190.5" stroke="#000" stroke-width="3.3" stroke-linecap="butt"/>
<text x="927.6" y="1216.5" font-size="25.1" text-anchor="middle">WT</text>
<line x1="1135.9" y1="1178.6" x2="1135.9" y2="1190.5" stroke="#000" stroke-width="3.3" stroke-linecap="butt"/>
<text x="1135.9" y="1216.5" font-size="25.1" text-anchor="middle">Mut</text>
<path d="M927.6 727V718.3H1135.9V727" fill="none" stroke="#000" stroke-width="3.3" stroke-linejoin="round" stroke-linecap="round"/>
<text x="1031.75" y="721" font-size="24.5" text-anchor="middle">***</text>
<text x="1031.6" y="1254" font-size="29.1" text-anchor="middle">IDH status</text>
<text transform="translate(714.8,939.55) rotate(-90)" font-size="28.8" text-anchor="middle">The expression of FBLIM1</text>
<text transform="translate(741.9,937.05) rotate(-90)" font-size="28.8" text-anchor="middle" letter-spacing="0.2">Log<tspan font-size="24" dy="9">2</tspan><tspan dy="-9"> (TPM+1)</tspan></text>
<text x="662" y="669.8" font-size="41" text-anchor="start" font-weight="bold" stroke="none">(e)</text>
</g>
</svg>
</body>
</html>
